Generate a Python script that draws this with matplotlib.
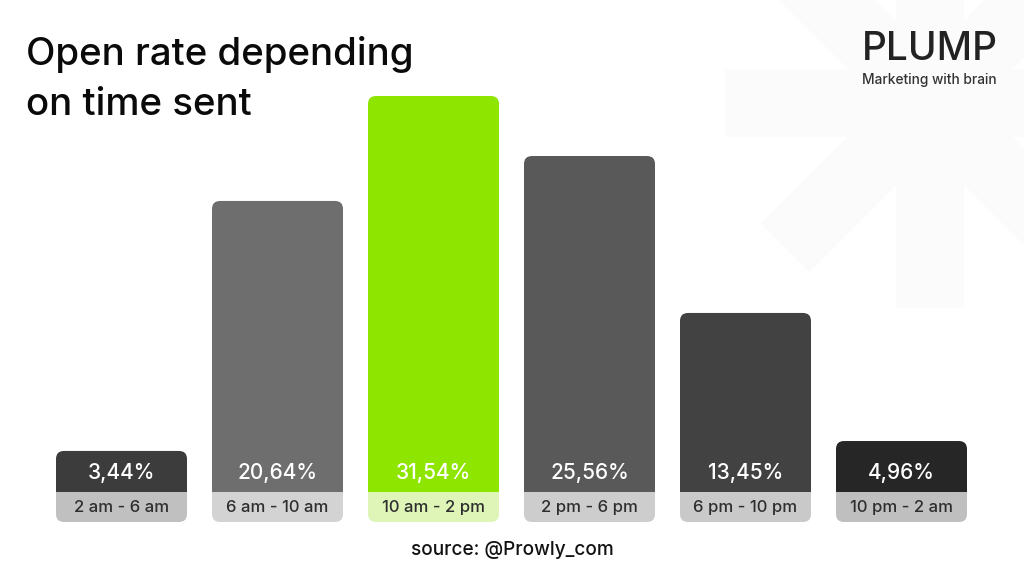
import numpy as np
import matplotlib
matplotlib.use('Agg')
import matplotlib.pyplot as plt
from matplotlib.path import Path
from matplotlib.patches import PathPatch, Polygon

# data
time_ranges = ['2 am - 6 am', '6 am - 10 am', '10 am - 2 pm', '2 pm - 6 pm', '6 pm - 10 pm', '10 pm - 2 am']
value_labels = ['3,44%', '20,64%', '31,54%', '25,56%', '13,45%', '4,96%']
# the bars in the original are not quite proportional to their labels
bar_heights = [3.27, 23.18, 31.54, 26.76, 14.26, 4.06]
bar_colors = ['#3c3c3c', '#6e6e6e', '#8ee600', '#595959', '#424242', '#262626']
band_colors = ['#c0c0c0', '#d3d3d3', '#dff5b8', '#cdcdcd', '#c9c9c9', '#bfbfbf']

W, H = 1024, 576
PX_PER_UNIT = 12.555
BAND = 30 / PX_PER_UNIT
BAR_WIDTH = 131 / 156

fig = plt.figure(figsize=(W / 100, H / 100), dpi=100, facecolor='white')


def to_fig(x0, y0, x1, y1):
    return [x0 / W, 1 - y1 / H, (x1 - x0) / W, (y1 - y0) / H]


# background asterisk
bg = fig.add_axes([0, 0, 1, 1])
bg.set_xlim(0, W)
bg.set_ylim(H, 0)
bg.axis('off')
cx, cy = 930, 103
for deg in range(0, 360, 45):
    a = np.radians(deg)
    d = np.array([np.cos(a), np.sin(a)])
    n = np.array([-d[1], d[0]])
    c = np.array([cx, cy])
    pts = [c + n * 34, c + n * 34 + d * 205, c - n * 34 + d * 205, c - n * 34]
    bg.add_patch(Polygon(pts, closed=True, fc='#fbfbfb', ec='none'))

# chart axes: one unit of x per category, y in percent
ax = fig.add_axes(to_fig(43.5, 96, 979.5, 522))
ax.set_xlim(-0.5, 5.5)
ax.set_ylim(-BAND, max(bar_heights))
ax.axis('off')


def rounded(x0, x1, y0, y1, top=False, bottom=False):
    rx = 8 / 156
    ry = 8 / PX_PER_UNIT
    verts = []
    codes = []
    if bottom:
        verts += [(x0, y0 + ry), (x0, y0), (x0 + rx, y0), (x1 - rx, y0), (x1, y0), (x1, y0 + ry)]
        codes += [Path.MOVETO, Path.CURVE3, Path.CURVE3, Path.LINETO, Path.CURVE3, Path.CURVE3]
    else:
        verts += [(x0, y0), (x1, y0)]
        codes += [Path.MOVETO, Path.LINETO]
    if top:
        verts += [(x1, y1 - ry), (x1, y1), (x1 - rx, y1), (x0 + rx, y1), (x0, y1), (x0, y1 - ry)]
        codes += [Path.LINETO, Path.CURVE3, Path.CURVE3, Path.LINETO, Path.CURVE3, Path.CURVE3]
    else:
        verts += [(x1, y1), (x0, y1)]
        codes += [Path.LINETO, Path.LINETO]
    verts.append(verts[0])
    codes.append(Path.CLOSEPOLY)
    return Path(verts, codes)


positions = np.arange(len(time_ranges))
for x, h, col, band, rng, lab in zip(positions, bar_heights, bar_colors, band_colors, time_ranges, value_labels):
    x0, x1 = x - BAR_WIDTH / 2, x + BAR_WIDTH / 2
    ax.add_patch(PathPatch(rounded(x0, x1, 0, h, top=True), fc=col, ec='none', clip_on=False))
    ax.add_patch(PathPatch(rounded(x0, x1, -BAND, 0, bottom=True), fc=band, ec='none', clip_on=False))
    ax.text(x, 19 / PX_PER_UNIT, lab, ha='center', va='center', color='white', fontsize=15, family='Inter', weight='medium')
    ax.text(x, -16 / PX_PER_UNIT, rng, ha='center', va='center', color='#2e2e2e', fontsize=12, family='Inter', weight='medium')

# header, logo and source
bg.text(26, 65, 'Open rate depending', fontsize=27.7, family='Inter', weight='medium', color='#0a0a0a', va='baseline', zorder=5)
bg.text(26, 115, 'on time sent', fontsize=27.7, family='Inter', weight='medium', color='#0a0a0a', va='baseline', zorder=5)
bg.text(862, 60, 'PLUMP', fontsize=28, family='Inter', weight='medium', color='#222222', va='baseline', zorder=5)
bg.text(862, 84, 'Marketing with brain', fontsize=9.9, family='Inter', weight='medium', color='#333333', va='baseline', zorder=5)
bg.text(512, 555, 'source: @Prowly_com', fontsize=13.7, family='Inter', weight='medium', color='#111111', ha='center', va='baseline', zorder=5)

fig.savefig('out.png', dpi=100)
